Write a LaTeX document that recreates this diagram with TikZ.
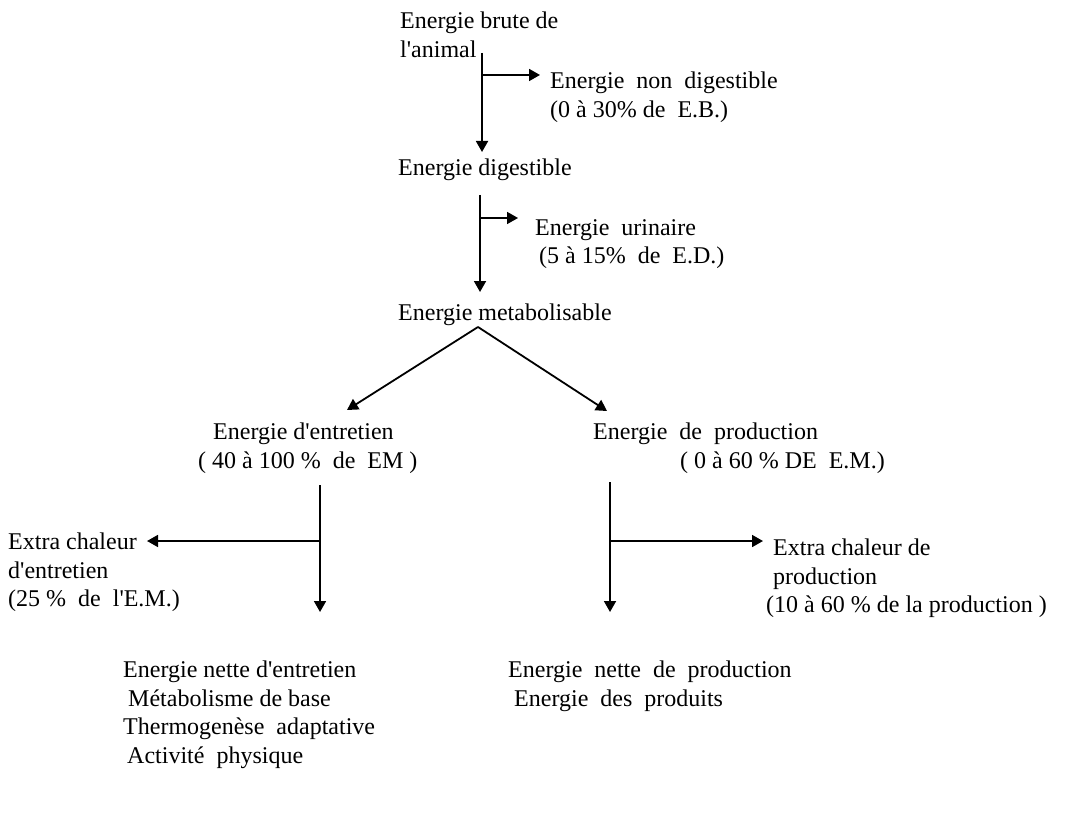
\documentclass[tikz,border=0pt]{standalone}
\usepackage{fontspec}
\setmainfont{Liberation Serif}
\usetikzlibrary{arrows.meta,positioning}

\begin{document}
\begin{tikzpicture}[x=1pt, y=-1pt,
    txt/.style={anchor=north west, inner sep=0pt, align=left,
                font=\fontsize{24}{28.5}\selectfont},
    arrow/.style={-{Triangle[length=11pt,width=12pt]}, line width=1.8pt},
  ]
  \useasboundingbox (0,0) rectangle (1072,832);

  % flux d'energie
  \node[txt] (brute) at (400,12) {Energie brute de\\l\textquotesingle animal};
  \node[txt] (nondig) at (550,72) {Energie\ \ non\ \ digestible\\(0 à 30\% de\ \ E.B.)};
  \node[txt] (digest) at (398,159) {Energie digestible};
  \node[txt] (urin) at (535,219) {Energie\ \ urinaire\\\hspace*{4pt}(5 à 15\%\ \ de\ \ E.D.)};
  \node[txt] (metab) at (398,304) {Energie metabolisable};

  \node[txt] (entr) at (198,423) {\hspace*{15pt}Energie d\textquotesingle entretien\\( 40 à 100 \%\ \ de\ \ EM )};
  \node[txt] (prod) at (593,423) {Energie\ \ de\ \ production\\\hspace*{87pt}( 0 à 60 \% DE\ \ E.M.)};

  \node[txt] (chalE) at (8,533) {Extra chaleur\\d\textquotesingle entretien\\(25 \%\ \ de\ \ l\textquotesingle E.M.)};
  \node[txt] (chalP) at (766,539) {\hspace*{7pt}Extra chaleur de\\\hspace*{7pt}production\\(10 à 60 \% de la production )};

  \node[txt] (netE) at (123,661) {Energie nette d\textquotesingle entretien\\\hspace*{5pt}Métabolisme de base\\Thermogenèse\ \ adaptative\\\hspace*{4pt}Activité\ \ physique};
  \node[txt] (netP) at (508,661) {Energie\ \ nette\ \ de\ \ production\\\hspace*{6pt}Energie\ \ des\ \ produits};

  % points de branchement
  \coordinate (b1) at (482,53);
  \coordinate (b1k) at (482,75);
  \coordinate (b1t) at (482,152);
  \coordinate (d1) at (480,195);
  \coordinate (d1k) at (480,218);
  \coordinate (d1t) at (480,292);
  \coordinate (split) at (478,327);
  \coordinate (et) at (347,410);
  \coordinate (pt) at (607,411);
  \coordinate (e1) at (320,485);
  \coordinate (e1k) at (320,541);
  \coordinate (e1t) at (320,612);
  \coordinate (p1) at (610,482);
  \coordinate (p1k) at (610,541);
  \coordinate (p1t) at (610,612);

  \draw[arrow] (b1) -- (b1t);
  \draw[arrow] (b1k) -- ([xshift=-10pt]nondig.north west |- b1k);
  \draw[arrow] (d1) -- (d1t);
  \draw[arrow] (d1k) -- ([xshift=-17pt]urin.north west |- d1k);
  \draw[arrow] (split) -- (et);
  \draw[arrow] (split) -- (pt);
  \draw[arrow] (e1) -- (e1t);
  \draw[arrow] (e1k) -- ([xshift=139pt]chalE.west |- e1k);
  \draw[arrow] (p1) -- (p1t);
  \draw[arrow] (p1k) -- ([xshift=-3pt]chalP.west |- p1k);
\end{tikzpicture}
\end{document}
